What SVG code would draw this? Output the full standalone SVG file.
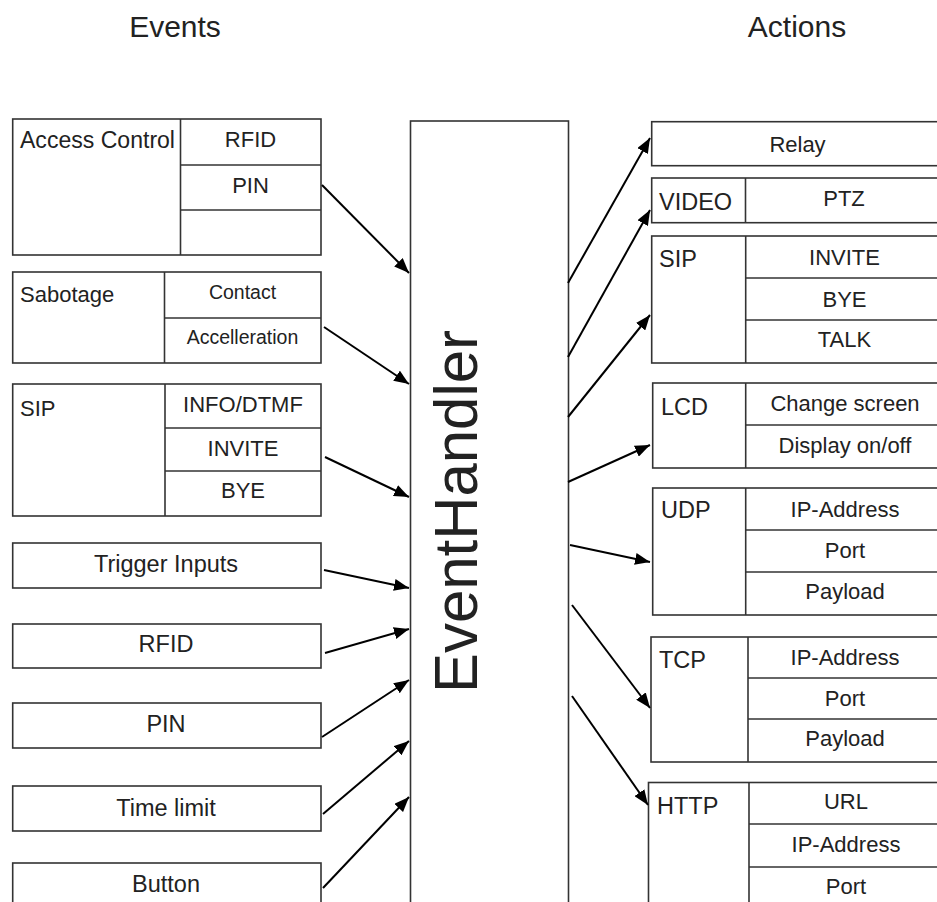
<svg xmlns="http://www.w3.org/2000/svg" width="937" height="902" viewBox="0 0 937 902">
<defs>
<marker id="ah" markerUnits="userSpaceOnUse" markerWidth="16" markerHeight="12" refX="15" refY="6" orient="auto">
<path d="M0,0 L15,6 L0,12 z" fill="#000"/>
</marker>
<style>
rect, line.d { fill: #fff; stroke: #333; stroke-width: 1.6; }
line.d { fill: none; }
text { font-family: "Liberation Sans", Arial, sans-serif; fill: #222; font-size: 22px; }
.c { text-anchor: middle; }
.s { font-size: 19.5px; }
.l { font-size: 23.5px; }
.h { font-size: 30px; }
.conn line { stroke: #000; stroke-width: 2; marker-end: url(#ah); }
</style>
</defs>
<rect x="0" y="0" width="937" height="902" style="fill:#fff;stroke:none"/>
<g id="titles">
<text class="h c" x="175" y="37">Events</text>
<text class="h c" x="797" y="37">Actions</text>
</g>

<g id="eventhandler">
<rect x="410.5" y="121" width="158" height="800"/>
<text transform="translate(477,693) rotate(-90)" textLength="363" lengthAdjust="spacingAndGlyphs" style="font-size:62px">EventHandler</text>
</g>

<!-- Events -->
<g id="ev-access">
<rect x="12.7" y="119" width="308.3" height="136"/>
<line class="d" x1="180.5" y1="119" x2="180.5" y2="255"/>
<line class="d" x1="180.5" y1="165" x2="321" y2="165"/>
<line class="d" x1="180.5" y1="210" x2="321" y2="210"/>
<text x="20" y="148" style="font-size:23px" textLength="155" lengthAdjust="spacingAndGlyphs">Access Control</text>
<text class="c" x="250.5" y="147">RFID</text>
<text class="c" x="250.5" y="193">PIN</text>
</g>
<g id="ev-sabotage">
<rect x="12.7" y="272" width="308.3" height="91"/>
<line class="d" x1="164.5" y1="272" x2="164.5" y2="363"/>
<line class="d" x1="164.5" y1="318" x2="321" y2="318"/>
<text x="20" y="302">Sabotage</text>
<text class="c s" x="242.5" y="299">Contact</text>
<text class="c s" x="242.5" y="344">Accelleration</text>
</g>
<g id="ev-sip">
<rect x="12.7" y="384" width="308.3" height="132"/>
<line class="d" x1="165" y1="384" x2="165" y2="516"/>
<line class="d" x1="165" y1="428" x2="321" y2="428"/>
<line class="d" x1="165" y1="471" x2="321" y2="471"/>
<text x="20" y="416">SIP</text>
<text class="c" x="243" y="412">INFO/DTMF</text>
<text class="c" x="243" y="456">INVITE</text>
<text class="c" x="243" y="498">BYE</text>
</g>
<g id="ev-trigger">
<rect x="12.7" y="543" width="308.3" height="45"/>
<text class="c l" x="166" y="572">Trigger Inputs</text>
</g>
<g id="ev-rfid">
<rect x="12.7" y="624" width="308.3" height="44"/>
<text class="c l" x="166" y="652">RFID</text>
</g>
<g id="ev-pin">
<rect x="12.7" y="703" width="308.3" height="45"/>
<text class="c l" x="166" y="732">PIN</text>
</g>
<g id="ev-time">
<rect x="12.7" y="786" width="308.3" height="45"/>
<text class="c l" x="166" y="816">Time limit</text>
</g>
<g id="ev-button">
<rect x="12.7" y="863" width="308.3" height="60"/>
<text class="c l" x="166" y="892">Button</text>
</g>

<!-- Actions -->
<g id="ac-relay">
<rect x="651.7" y="121.7" width="300" height="44"/>
<text class="c" x="797.5" y="152">Relay</text>
</g>
<g id="ac-video">
<rect x="651.7" y="178" width="300" height="44.7"/>
<line class="d" x1="745.5" y1="178" x2="745.5" y2="222.7"/>
<text class="l" x="659" y="209.5">VIDEO</text>
<text class="c" x="844" y="206">PTZ</text>
</g>
<g id="ac-sip">
<rect x="651.7" y="236" width="300" height="127"/>
<line class="d" x1="745.7" y1="236" x2="745.7" y2="363"/>
<line class="d" x1="745.7" y1="278" x2="951.7" y2="278"/>
<line class="d" x1="745.7" y1="320" x2="951.7" y2="320"/>
<text class="l" x="659" y="267">SIP</text>
<text class="c" x="844.5" y="265">INVITE</text>
<text class="c" x="844.5" y="307">BYE</text>
<text class="c" x="844.5" y="347">TALK</text>
</g>
<g id="ac-lcd">
<rect x="652.7" y="383" width="300" height="85"/>
<line class="d" x1="745.7" y1="383" x2="745.7" y2="468"/>
<line class="d" x1="745.7" y1="425" x2="952.7" y2="425"/>
<text class="l" x="661" y="415">LCD</text>
<text class="c" x="845" y="411">Change screen</text>
<text class="c" x="845" y="453">Display on/off</text>
</g>
<g id="ac-udp">
<rect x="652.7" y="488" width="300" height="127"/>
<line class="d" x1="745.7" y1="488" x2="745.7" y2="615"/>
<line class="d" x1="745.7" y1="530" x2="952.7" y2="530"/>
<line class="d" x1="745.7" y1="572" x2="952.7" y2="572"/>
<text class="l" x="661" y="518">UDP</text>
<text class="c" x="845" y="517">IP-Address</text>
<text class="c" x="845" y="558">Port</text>
<text class="c" x="845" y="598.5">Payload</text>
</g>
<g id="ac-tcp">
<rect x="651" y="637" width="300" height="125"/>
<line class="d" x1="748" y1="637" x2="748" y2="762"/>
<line class="d" x1="748" y1="678" x2="951" y2="678"/>
<line class="d" x1="748" y1="719" x2="951" y2="719"/>
<text class="l" x="659" y="668">TCP</text>
<text class="c" x="845" y="664.5">IP-Address</text>
<text class="c" x="845" y="705.5">Port</text>
<text class="c" x="845" y="746">Payload</text>
</g>
<g id="ac-http">
<rect x="648.5" y="782.5" width="300" height="140"/>
<line class="d" x1="749" y1="782.5" x2="749" y2="922"/>
<line class="d" x1="749" y1="824" x2="948.5" y2="824"/>
<line class="d" x1="749" y1="867" x2="948.5" y2="867"/>
<text class="l" x="657" y="814">HTTP</text>
<text class="c" x="846" y="809">URL</text>
<text class="c" x="846" y="852">IP-Address</text>
<text class="c" x="846" y="894">Port</text>
</g>

<g id="connectors" class="conn">
<line x1="322" y1="185" x2="409" y2="273"/>
<line x1="324" y1="327" x2="409" y2="384"/>
<line x1="325" y1="457" x2="409" y2="497"/>
<line x1="324" y1="570" x2="409" y2="588"/>
<line x1="325" y1="653" x2="409" y2="629"/>
<line x1="322" y1="737" x2="409" y2="680"/>
<line x1="323" y1="814" x2="409" y2="741"/>
<line x1="323" y1="888" x2="409" y2="797"/>
<line x1="568" y1="283" x2="650" y2="138"/>
<line x1="568" y1="357" x2="650" y2="210"/>
<line x1="568" y1="417" x2="650" y2="315"/>
<line x1="568" y1="482" x2="650" y2="445"/>
<line x1="570" y1="545" x2="650" y2="562"/>
<line x1="572" y1="605" x2="650" y2="708"/>
<line x1="572" y1="696" x2="648" y2="805"/>
</g>
</svg>
